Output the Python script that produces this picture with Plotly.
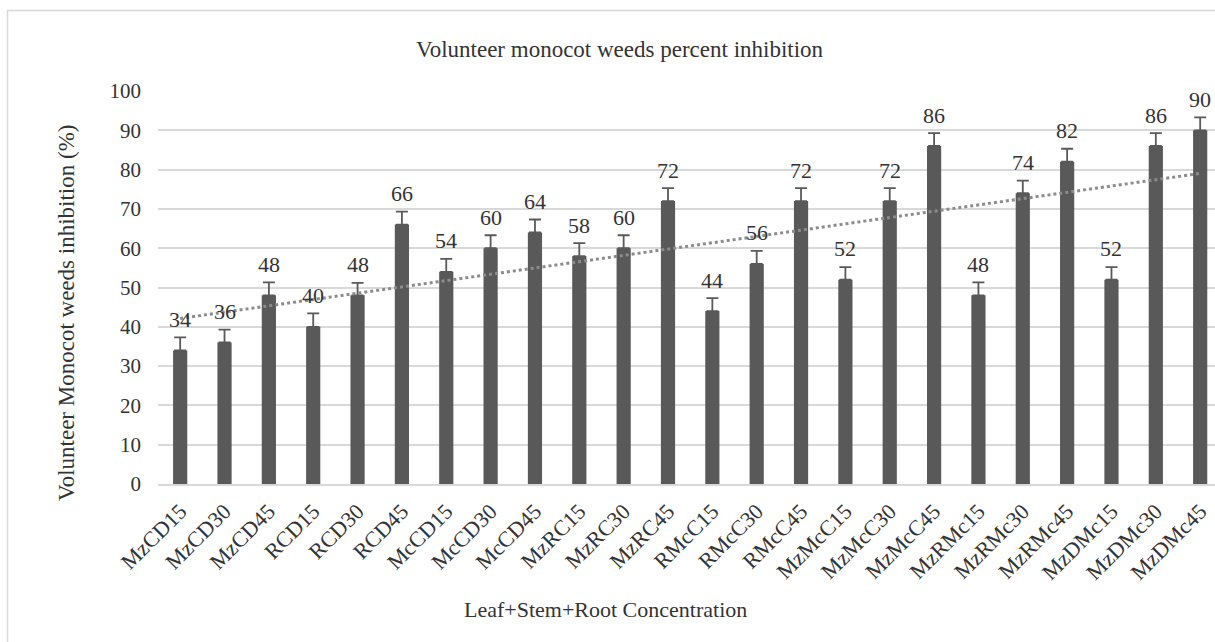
import numpy as np
import plotly.graph_objects as go

# Treatment codes along the category axis
categories = [
    "MzCD15", "MzCD30", "MzCD45", "RCD15", "RCD30", "RCD45",
    "McCD15", "McCD30", "McCD45", "MzRC15", "MzRC30", "MzRC45",
    "RMcC15", "RMcC30", "RMcC45", "MzMcC15", "MzMcC30", "MzMcC45",
    "MzRMc15", "MzRMc30", "MzRMc45", "MzDMc15", "MzDMc30", "MzDMc45",
]

# Percent inhibition of volunteer monocot weeds
inhibition = [34, 36, 48, 40, 48, 66, 54, 60, 64, 58, 60, 72,
              44, 56, 72, 52, 72, 86, 48, 74, 82, 52, 86, 90]

# Upper error bar lengths
error_up = [3.3, 3.3, 3.3, 3.4, 3.2, 3.3, 3.3, 3.3, 3.3, 3.3, 3.3, 3.3,
            3.3, 3.3, 3.3, 3.2, 3.3, 3.3, 3.3, 3.2, 3.3, 3.2, 3.3, 3.3]

y_ticks = [0, 10, 20, 30, 40, 50, 60, 70, 80, 90, 100]

FONT = "Liberation Serif, Times New Roman, serif"
TEXT = "#333333"
BAR = "#595959"
GRID = "#d9d9d9"

# Layout geometry (pixels)
W, H = 1215, 642
L, R, T, B = 158, 0, 91, 158
plot_w = W - L - R
plot_h = H - T - B


def px_x(px):
    return (px - L) / plot_w


def px_y(py):
    return (H - B - py) / plot_h


idx = np.arange(len(categories))
slope, intercept = np.polyfit(idx, inhibition, 1)
trend = slope * idx + intercept

fig = go.Figure()

fig.add_trace(go.Bar(
    x=idx,
    y=inhibition,
    width=0.32,
    marker=dict(color=BAR, line=dict(width=0)),
    error_y=dict(
        type="data",
        symmetric=False,
        array=error_up,
        arrayminus=[0] * len(error_up),
        visible=True,
        color=BAR,
        thickness=1.8,
        width=6,
    ),
    showlegend=False,
    hoverinfo="x+y",
))

fig.add_trace(go.Scatter(
    x=idx,
    y=trend,
    mode="lines",
    line=dict(color="#8c8c8c", width=3, dash="dot"),
    showlegend=False,
    hoverinfo="skip",
))

# Value labels above each bar
for i, v in zip(idx, inhibition):
    fig.add_annotation(
        x=i, y=v, text=str(v), showarrow=False,
        yshift=31, yanchor="middle",
        font=dict(family=FONT, size=22, color=TEXT),
    )

# Chart title
fig.add_annotation(
    x=px_x(620), y=px_y(49.5), xref="paper", yref="paper",
    text="Volunteer monocot weeds percent inhibition",
    showarrow=False, xanchor="center", yanchor="middle",
    font=dict(family=FONT, size=23, color=TEXT),
)

# Axis titles
fig.add_annotation(
    x=px_x(605), y=px_y(609), xref="paper", yref="paper",
    text="Leaf+Stem+Root Concentration",
    showarrow=False, xanchor="center", yanchor="middle",
    font=dict(family=FONT, size=22, color=TEXT),
)
fig.add_annotation(
    x=px_x(66), y=px_y(313), xref="paper", yref="paper",
    text="Volunteer Monocot weeds inhibition (%)",
    textangle=-90, showarrow=False, xanchor="center", yanchor="middle",
    font=dict(family=FONT, size=23, color=TEXT),
)

# Chart border
fig.add_shape(
    type="rect", xref="paper", yref="paper",
    x0=px_x(7.5), x1=px_x(W + 20), y0=px_y(H + 20), y1=px_y(10.5),
    line=dict(color=GRID, width=1.5), fillcolor="rgba(0,0,0,0)",
    layer="below",
)

fig.update_layout(
    width=W, height=H,
    margin=dict(l=L, r=R, t=T, b=B, pad=0),
    paper_bgcolor="white",
    plot_bgcolor="white",
    bargap=0.68,
    xaxis=dict(
        tickmode="array",
        tickvals=list(idx),
        ticktext=categories,
        tickangle=-45,
        range=[-0.5, -0.5 + plot_w / (1020 / 23)],
        showgrid=False,
        zeroline=False,
        showline=True,
        linecolor=GRID,
        linewidth=1.5,
        ticks="",
        ticklabelstandoff=4,
        tickfont=dict(family=FONT, size=22, color=TEXT),
        fixedrange=True,
    ),
    yaxis=dict(
        range=[0, 100],
        tickmode="array",
        tickvals=y_ticks,
        showgrid=True,
        gridcolor=GRID,
        gridwidth=1.5,
        zeroline=False,
        showline=False,
        ticks="",
        ticklabelstandoff=16,
        tickfont=dict(family=FONT, size=21, color=TEXT),
        fixedrange=True,
    ),
)

fig.write_html("out.html")
